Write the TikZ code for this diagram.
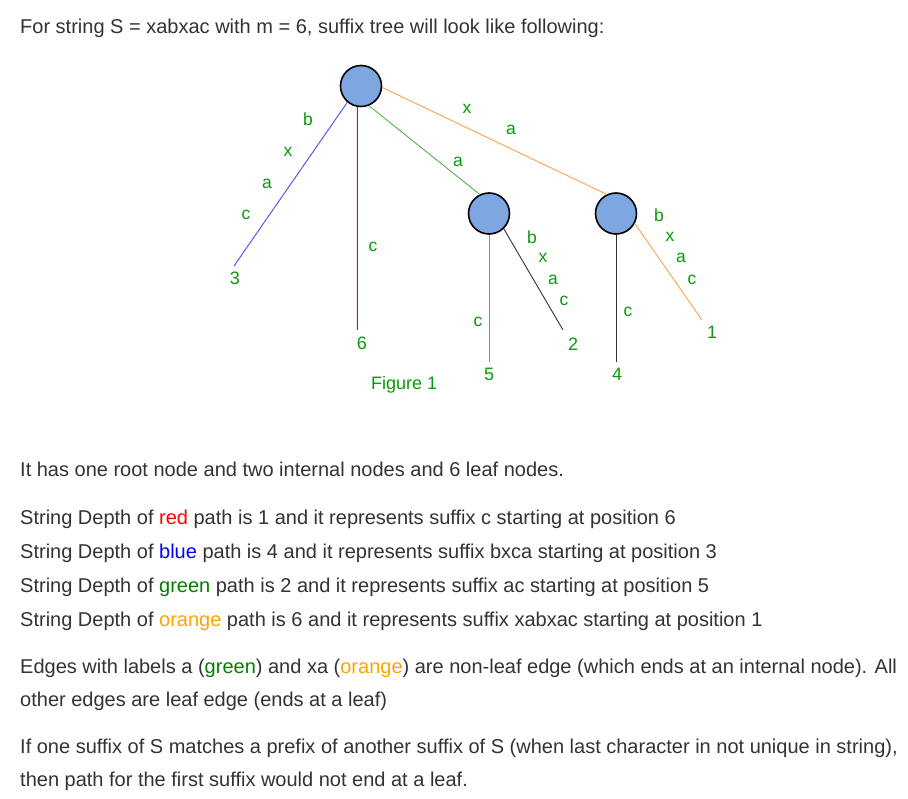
\documentclass[tikz,border=0pt]{standalone}
\usepackage{fontspec}
\setmainfont{Liberation Sans}
\usetikzlibrary{calc}

\definecolor{bodytext}{HTML}{333333}
\definecolor{nodeblue}{HTML}{7EA6E0}
\definecolor{lblgreen}{HTML}{0A9A0A}
\definecolor{edgeblue}{HTML}{4D4DF5}
\definecolor{edgered}{HTML}{E01010}
\definecolor{edgegreen}{HTML}{55B555}
\definecolor{edgeorange}{HTML}{FFA24D}
\definecolor{edgedark}{HTML}{333333}
\definecolor{wordred}{HTML}{FF0000}
\definecolor{wordblue}{HTML}{0000FF}
\definecolor{wordgreen}{HTML}{008000}
\definecolor{wordorange}{HTML}{FFA500}

\tikzset{
  treenode/.style={circle, draw=black, line width=1.6pt, fill=nodeblue,
                   minimum size=41pt, inner sep=0pt},
  edgelbl/.style={text=lblgreen, inner sep=0pt,
                  font=\fontsize{17.5}{20}\selectfont},
  leaflbl/.style={text=lblgreen, inner sep=0pt,
                  font=\fontsize{18}{20}\selectfont},
  tedge/.style={line width=0.9pt},
  para/.style={anchor=base west, inner sep=0pt, text=bodytext,
               font=\fontsize{20}{24}\selectfont}
}

\begin{document}
\begin{tikzpicture}[x=1pt, y=-1pt]
\useasboundingbox (0,0) rectangle (908,799);
\fill[white] (0,0) rectangle (908,799);

% heading line
\node[para] (title) at (20,34) {For string S = xabxac with m = 6, suffix tree will look like following:};

% tree nodes
\node[treenode] (root) at (361,86) {};
\node[treenode] (n1) at (489,213.5) {};
\node[treenode] (n2) at (616,213.5) {};

% leaf ends
\coordinate (l3) at (234,266);
\coordinate (l6) at (357.4,330);
\coordinate (l5) at (489,362);
\coordinate (l2) at (563,330);
\coordinate (l4) at (616,362);
\coordinate (l1) at (702,320);

% edges
\draw[tedge, edgeblue] (root.230) -- (l3);
\draw[tedge, edgered] (root.-100) -- (l6);
\draw[tedge, edgegreen] (root.-68) -- (n1.116);
\draw[tedge, edgeorange] (root.-4) -- (n2.116);
\draw[tedge, edgegreen] (n1.south) -- (l5);
\draw[tedge, edgedark] (n1.-46) -- (l2);
\draw[tedge, edgedark] (n2.south) -- (l4);
\draw[tedge, edgeorange] (n2.-28) -- (l1);

% edge labels
\node[edgelbl] (bb) at (308,119) {b};
\node[edgelbl] (bx) at (288,152) {x};
\node[edgelbl] (ba) at (267,184) {a};
\node[edgelbl] (bc) at (246,215) {c};
\node[edgelbl] (rc) at (373,247) {c};
\node[edgelbl] (ga) at (458,162) {a};
\node[edgelbl] (ox) at (467,109) {x};
\node[edgelbl] (oa) at (511,130) {a};
\node[edgelbl] (fc) at (478,322) {c};
\node[edgelbl] (kb) at (532,237) {b};
\node[edgelbl] (kx) at (543,258) {x};
\node[edgelbl] (ka) at (553,280) {a};
\node[edgelbl] (kc) at (564,301) {c};
\node[edgelbl] (dc) at (628,312) {c};
\node[edgelbl] (qb) at (659,215) {b};
\node[edgelbl] (qx) at (670,237) {x};
\node[edgelbl] (qa) at (681,258) {a};
\node[edgelbl] (qc) at (692,280) {c};

% leaf numbers
\node[leaflbl] (t3) at (235,278) {3};
\node[leaflbl] (t6) at (362,343) {6};
\node[leaflbl] (t5) at (489,374) {5};
\node[leaflbl] (t2) at (573,344) {2};
\node[leaflbl] (t4) at (617,374) {4};
\node[leaflbl] (t1) at (712,332) {1};

\node[leaflbl, anchor=base west] (cap) at (371,390) {Figure 1};

% explanation text
\node[para] (p1) at (20,477) {It has one root node and two internal nodes and 6 leaf nodes.};
\node[para] (p2) at (20,524) {String Depth of \textcolor{wordred}{red} path is 1 and it represents suffix c starting at position 6};
\node[para] (p3) at (20,558) {String Depth of \textcolor{wordblue}{blue} path is 4 and it represents suffix bxca starting at position 3};
\node[para] (p4) at (20,592) {String Depth of \textcolor{wordgreen}{green} path is 2 and it represents suffix ac starting at position 5};
\node[para] (p5) at (20,626) {String Depth of \textcolor{wordorange}{orange} path is 6 and it represents suffix xabxac starting at position 1};
\node[para] (p6) at (20,673) {Edges with labels a (\textcolor{wordgreen}{green}) and xa (\textcolor{wordorange}{orange}) are non-leaf edge (which ends at an internal node). All};
\node[para] (p7) at (20,706) {other edges are leaf edge (ends at a leaf)};
\node[para] (p8) at (20,753) {If one suffix of S matches a prefix of another suffix of S (when last character in not unique in string),};
\node[para] (p9) at (20,786) {then path for the first suffix would not end at a leaf.};
\end{tikzpicture}
\end{document}
